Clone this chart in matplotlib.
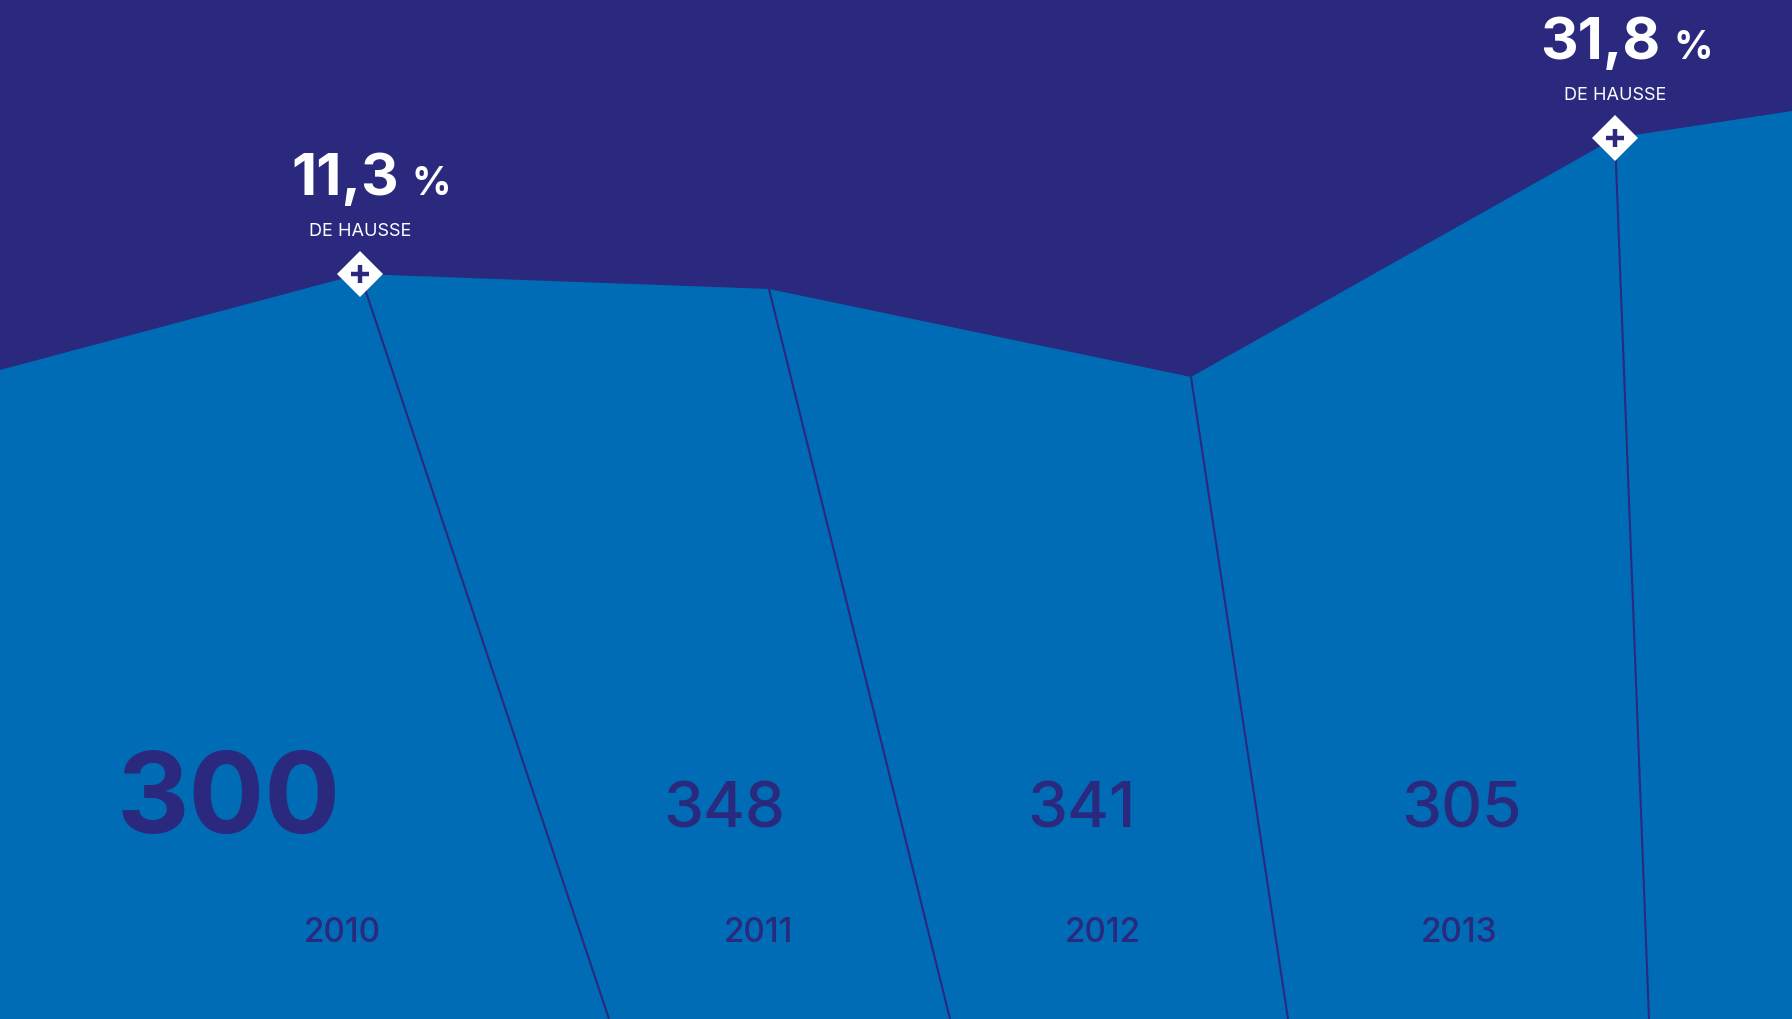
import numpy as np
import matplotlib as mpl
mpl.use('Agg')
import matplotlib.pyplot as plt
from matplotlib.patches import Polygon

W, H = 1792, 1019

navy = '#2a297e'
blue = '#006cb6'

# top edge of the blue band (canvas units, y up)
profile_x = [0, 360, 769, 1191, 1615, 1792]
profile_y = [649, 745, 730, 642, 881, 908]
# where each dividing line meets the bottom edge
split_bottom_x = [609, 950, 1288, 1649]

totals = ['300', '348', '341', '305']
years = ['2010', '2011', '2012', '2013']
total_x = [228, 724, 1081, 1462]
year_x = [342, 758, 1103, 1459]

hl_index = [1, 4]
hl_label = ['11,3', '31,8']

mpl.rcParams['font.family'] = ['Inter', 'DejaVu Sans']

fig = plt.figure(figsize=(W / 100, H / 100), dpi=100, facecolor=navy)
ax = fig.add_axes([0, 0, 1, 1])
ax.set_xlim(0, W)
ax.set_ylim(0, H)
ax.axis('off')
ax.set_facecolor(navy)

# pad the band a little past the canvas so no seam shows at the edges
bx = np.r_[profile_x[0] - 20, profile_x, profile_x[-1] + 20]
by = np.r_[profile_y[0], profile_y, profile_y[-1]]
ax.fill_between(bx, -20, by, color=blue, lw=0, zorder=1)

# dividing lines from the inner vertices down to the bottom
for i, xb in enumerate(split_bottom_x):
    ax.plot([profile_x[i + 1], xb], [profile_y[i + 1], 0], color=navy, lw=1.5,
            solid_capstyle='butt', zorder=2)

# totals and years
for i, (t, yr) in enumerate(zip(totals, years)):
    if i == 0:
        ax.text(total_x[i], 186, t, fontsize=81, fontweight='bold', color=navy,
                ha='center', va='baseline', zorder=3)
    else:
        ax.text(total_x[i], 191, t, fontsize=46, fontweight='medium', color=navy,
                ha='center', va='baseline', zorder=3)
    ax.text(year_x[i], 77, yr, fontsize=24, fontweight='medium', color=navy,
            ha='center', va='baseline', zorder=3)

fig.canvas.draw()
rend = fig.canvas.get_renderer()

# highlighted peaks
for k, lab in zip(hl_index, hl_label):
    vx, vy = profile_x[k], profile_y[k]
    d = 23
    ax.add_patch(Polygon([[vx - d, vy], [vx, vy + d], [vx + d, vy], [vx, vy - d]],
                         closed=True, fc='white', ec='none', zorder=4))
    ax.plot([vx], [vy], marker='+', ms=13, mew=3.2, color=navy, zorder=5)
    t = ax.text(vx - 15, vy + 79, lab, fontsize=42, fontweight='bold', color='white',
                ha='center', va='baseline', zorder=4)
    bb = t.get_window_extent(rend)
    ax.text(bb.x1 + 13, vy + 79, '%', fontsize=28, fontweight='bold', color='white',
            ha='left', va='baseline', zorder=4)
    ax.text(vx, vy + 38, 'DE HAUSSE', fontsize=13, color='white',
            ha='center', va='baseline', zorder=4)

fig.savefig('out.png', dpi=100, facecolor=navy)
